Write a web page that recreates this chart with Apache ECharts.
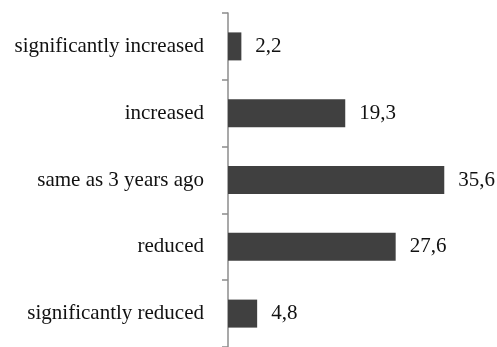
<!DOCTYPE html>
<html>
<head>
<meta charset="utf-8">
<style>
  html, body { margin: 0; padding: 0; background: #fff; }
  #chart { width: 497px; height: 347px; }
</style>
<script src="https://cdn.jsdelivr.net/npm/echarts@6/dist/echarts.min.js"></script>
</head>
<body>
<div id="chart"></div>
<script>
// Answer categories, top to bottom
const categories = [
  'significantly increased',
  'increased',
  'same as 3 years ago',
  'reduced',
  'significantly reduced'
];
// Share of respondents, %
const shares = [2.2, 19.3, 35.6, 27.6, 4.8];

const FONT = '"Liberation Serif", "Times New Roman", serif';

const chart = echarts.init(document.getElementById('chart'), null, { renderer: 'canvas' });
chart.setOption({
  animation: false,
  grid: { left: 228, right: 26, top: 13, height: 340, containLabel: false },
  xAxis: {
    type: 'value',
    min: 0,
    max: 40,
    show: false
  },
  yAxis: {
    type: 'category',
    data: categories,
    inverse: true,
    axisLine: { show: true, lineStyle: { color: '#8c8c8c', width: 1.5 } },
    axisTick: { show: true, length: 6, lineStyle: { color: '#8c8c8c', width: 1.5 } },
    axisLabel: {
      margin: 24,
      color: '#111',
      fontFamily: FONT,
      fontSize: 21
    },
    splitLine: { show: false }
  },
  series: [{
    type: 'bar',
    data: shares,
    barWidth: 28,
    itemStyle: { color: '#404040' },
    label: {
      show: true,
      position: 'right',
      distance: 14,
      color: '#111',
      fontFamily: FONT,
      fontSize: 21,
      formatter: p => p.value.toFixed(1).replace('.', ',')
    }
  }]
});
</script>
</body>
</html>
